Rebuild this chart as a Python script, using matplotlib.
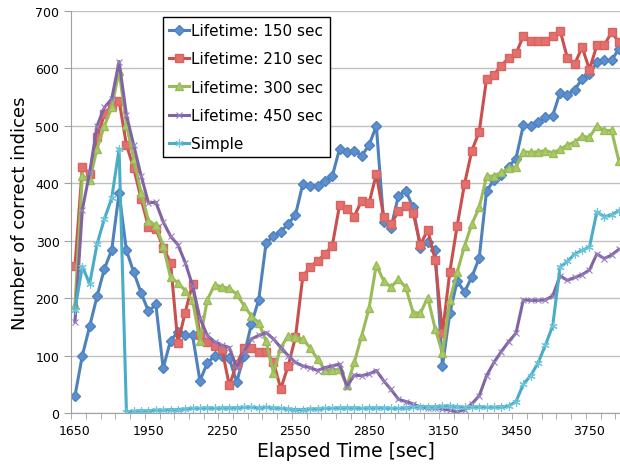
import numpy as np
import matplotlib.pyplot as plt

# elapsed time, one sample every 30 sec
times = list(range(1650, 3871, 30))

life150 = [30, 100, 151, 203, 251, 284, 383, 283, 245, 209,
           177, 189, 78, 126, 141, 135, 135, 56, 87, 99,
           100, 95, 54, 100, 155, 197, 296, 308, 316, 329,
           345, 399, 396, 395, 404, 412, 460, 454, 457, 448,
           466, 500, 332, 323, 378, 387, 358, 287, 297, 283,
           82, 174, 230, 211, 237, 270, 387, 405, 415, 429,
           443, 501, 500, 506, 515, 518, 558, 554, 563, 582,
           590, 611, 614, 614, 634]
life210 = [256, 428, 416, 480, 520, 535, 544, 467, 426, 373,
           324, 321, 288, 262, 122, 175, 225, 135, 123, 117,
           111, 48, 85, 113, 114, 106, 107, 89, 42, 82,
           132, 238, 254, 265, 277, 291, 362, 355, 342, 370,
           365, 416, 342, 329, 351, 360, 349, 293, 319, 267,
           139, 246, 326, 399, 457, 490, 582, 589, 605, 618,
           626, 656, 648, 648, 647, 656, 666, 618, 608, 637,
           598, 640, 640, 663, 646]
life300 = [188, 413, 405, 460, 500, 532, 596, 502, 442, 383,
           335, 327, 291, 236, 227, 213, 196, 126, 197, 223,
           220, 217, 207, 187, 169, 157, 125, 70, 114, 134,
           132, 129, 113, 94, 75, 75, 76, 48, 88, 134,
           182, 258, 230, 219, 233, 219, 175, 174, 201, 147,
           104, 196, 245, 291, 329, 358, 412, 413, 419, 426,
           428, 455, 454, 455, 457, 453, 459, 467, 472, 482,
           480, 500, 492, 492, 439]
life450 = [159, 354, 419, 500, 532, 547, 612, 519, 466, 413,
           366, 367, 333, 308, 293, 262, 222, 165, 135, 124,
           118, 114, 78, 106, 129, 135, 140, 129, 114, 100,
           88, 82, 79, 74, 79, 82, 85, 46, 66, 65,
           68, 74, 56, 41, 24, 20, 16, 10, 9, 8,
           7, 5, 2, 6, 16, 30, 65, 88, 107, 124,
           139, 197, 196, 196, 197, 204, 239, 231, 236, 241,
           249, 277, 269, 275, 285]
simple = [180, 255, 225, 294, 338, 374, 460, 2, 3, 4,
          4, 5, 5, 6, 6, 7, 8, 8, 9, 8,
          9, 9, 9, 10, 10, 9, 10, 9, 8, 7,
          6, 6, 7, 7, 8, 8, 9, 9, 9, 8,
          9, 9, 9, 8, 8, 9, 10, 11, 11, 11,
          12, 12, 11, 10, 10, 11, 10, 10, 11, 12,
          20, 50, 65, 87, 118, 152, 254, 264, 277, 283,
          289, 350, 342, 345, 352]

fig = plt.figure(figsize=(6.2, 4.77), dpi=100)
ax = fig.add_axes([71.3 / 620, 1 - 414 / 477, 1 - 71.3 / 620, 402 / 477])

# Excel 2007 style series
ax.plot(times, life150, color='#4F81BD', lw=2.2, marker='D', ms=4.8,
        mfc='#5B8FD0', mec='#4F81BD', label='Lifetime: 150 sec')
ax.plot(times, life210, color='#C9504D', lw=2.2, marker='s', ms=5.8,
        mfc='#E3706C', mec='#D86462', label='Lifetime: 210 sec')
ax.plot(times, life300, color='#9BBB59', lw=2.2, marker='^', ms=6,
        mfc='#A9CC66', mec='#9BBB59', label='Lifetime: 300 sec')
ax.plot(times, life450, color='#8064A2', lw=2.2, marker='x', ms=5,
        mew=0.8, mec='#9A80C0', label='Lifetime: 450 sec')
ax.plot(times, simple, color='#4BACC6', lw=2.2, marker=(6, 2, 0), ms=6,
        mew=0.8, mec='#6CC4DC', label='Simple')

ax.set_xlim(1635, 1635 + (620 - 71.3) / 7.35 * 30)
ax.set_ylim(0, 700)
ax.set_yticks(range(0, 701, 100))
ax.set_xticks(range(1650, 3871, 300))
ax.set_xticks(range(1635, 3871, 60), minor=True)
ax.tick_params(axis='x', which='major', length=0, pad=8, labelsize=9)
ax.tick_params(axis='x', which='minor', length=4, color='#A0A0A0')
ax.tick_params(axis='y', length=5, color='#A0A0A0', labelsize=9)
ax.grid(axis='y', color='#C0C0C0', lw=1)
ax.set_axisbelow(True)
for s in ['top', 'right']:
    ax.spines[s].set_visible(False)
for s in ['left', 'bottom']:
    ax.spines[s].set_color('#A0A0A0')

ax.set_xlabel('Elapsed Time [sec]', fontsize=13.5, labelpad=3)
ax.set_ylabel('Number of correct indices', fontsize=13, labelpad=5)

leg = ax.legend(loc='upper left', bbox_to_anchor=(163 / 620, 1 - 18 / 477),
                bbox_transform=fig.transFigure, fontsize=11, frameon=True,
                fancybox=False, edgecolor='black', framealpha=1,
                labelspacing=0.87, handlelength=1.3, handletextpad=0.15,
                borderpad=0.4, borderaxespad=0)
leg.get_frame().set_linewidth(1.0)

fig.savefig('out.png', dpi=100)
